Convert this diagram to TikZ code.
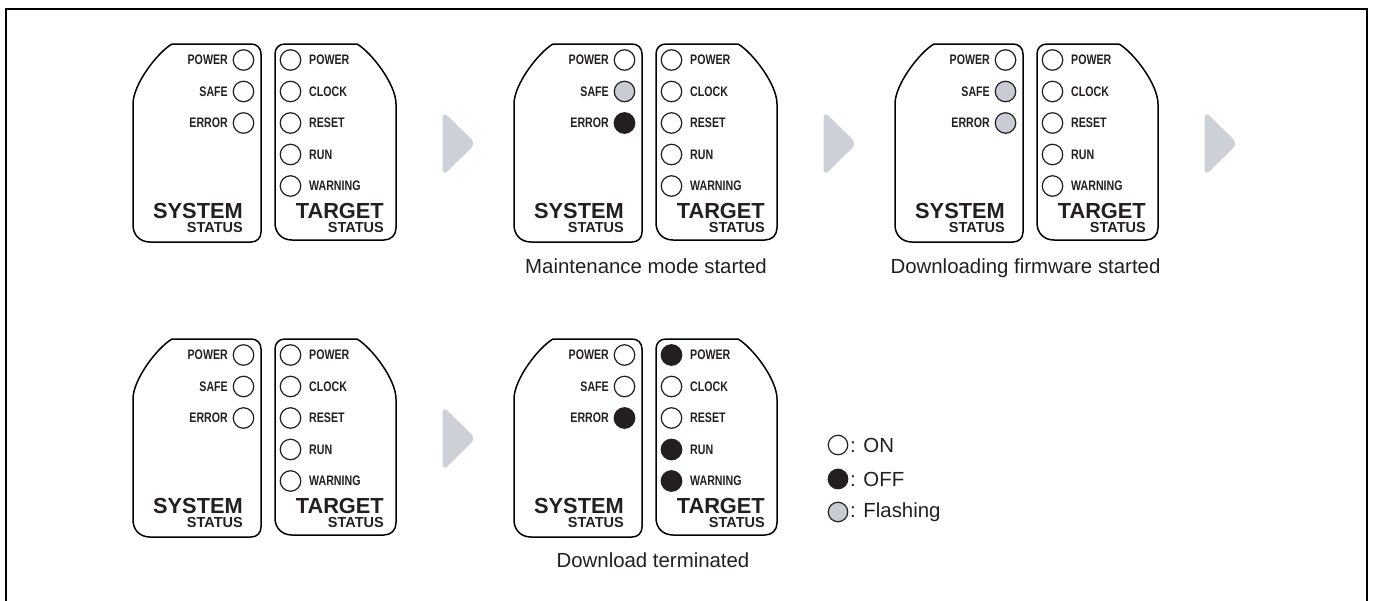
\documentclass[tikz,border=0pt]{standalone}
\usepackage{fontspec}
\setmainfont{Liberation Sans}
\newfontfamily\condb[FakeStretch=0.77]{Liberation Sans}
\definecolor{ledgray}{HTML}{C9CCD3}
\definecolor{arrgray}{HTML}{CDD0D7}
\definecolor{ledblack}{HTML}{231F20}
\tikzset{
  shapeline/.style={line width=1.5pt, line join=round},
  led/.style={circle, draw=ledblack, line width=1.2pt, minimum size=20.5pt, inner sep=0pt},
  legled/.style={circle, draw=ledblack, line width=1.2pt, minimum size=19.5pt, inner sep=0pt},
  lbl/.style={inner sep=0pt, font=\condb\bfseries\fontsize{13.8}{13.8}\selectfont, text=ledblack},
  bigtext/.style={inner sep=0pt, font=\bfseries\fontsize{21.8}{21.8}\selectfont, text=ledblack},
  subtext/.style={inner sep=0pt, font=\bfseries\fontsize{14.5}{14.5}\selectfont, text=ledblack},
  captext/.style={inner sep=0pt, font=\fontsize{20.4}{20.4}\selectfont, text=ledblack},
  arrowfill/.style={fill=arrgray, draw=arrgray, line width=1pt, rounded corners=6pt},
}
\newcommand\ledpanel[4]{%
\begin{scope}[shift={#2}]
  \draw[shapeline] (172,44) -- (251,44) .. controls (257,44) and (261,48) .. (261,54)
    -- (261,232) .. controls (261,238) and (257,242) .. (251,242)
    -- (150,242) .. controls (140,242) and (133,235) .. (133,225)
    -- (133,104) .. controls (133,84) and (158,52) .. (172,44) -- cycle;
  \draw[shapeline] (285,44) -- (357,44) .. controls (371,52) and (396,84) .. (396,104)
    -- (396,228) .. controls (396,235) and (391,240) .. (384,240)
    -- (292,240) .. controls (282,240) and (275,233) .. (275,223)
    -- (275,54) .. controls (275,48) and (279,44) .. (285,44) -- cycle;
  \foreach \c [count=\i] in {#3}
    \node[led, fill=\c] (#1s\i) at (243.5,{60+31.5*(\i-1)}) {};
  \foreach \t [count=\i] in {POWER,SAFE,ERROR}
    \node[lbl, anchor=east] (#1sl\i) at (228,{60+31.5*(\i-1)}) {\t};
  \foreach \c [count=\i] in {#4}
    \node[led, fill=\c] (#1t\i) at (290.5,{60+31.5*(\i-1)}) {};
  \foreach \t [count=\i] in {POWER,CLOCK,RESET,RUN,WARNING}
    \node[lbl, anchor=west] (#1tl\i) at (309,{60+31.5*(\i-1)}) {\t};
  \node[bigtext, anchor=base east] (#1sys) at (243,218) {SYSTEM};
  \node[subtext, anchor=base east] (#1sst) at (243,232) {STATUS};
  \node[bigtext, anchor=base east] (#1tgt) at (384,218) {TARGET};
  \node[subtext, anchor=base east] (#1tst) at (384,232) {STATUS};
\end{scope}}
\newcommand\nextarrow[1]{%
  \begin{scope}[shift={#1}]
    \fill[arrowfill] (443,112) -- (475,143.5) -- (443,175) -- cycle;
  \end{scope}}
\begin{document}
\begin{tikzpicture}[x=1pt,y=-1pt]
\useasboundingbox (0,0) rectangle (1374,600);
\fill[white] (0,0) rectangle (1374,600);
\draw[line width=2pt] (6,9) rectangle (1367,606);
% row 1
\ledpanel{a}{(0,0)}{white,white,white}{white,white,white,white,white}
\ledpanel{b}{(381,0)}{white,ledgray,ledblack}{white,white,white,white,white}
\ledpanel{c}{(762,0)}{white,ledgray,ledgray}{white,white,white,white,white}
\nextarrow{(0,0)}
\nextarrow{(381,0)}
\nextarrow{(762,0)}
\node[captext, anchor=base] (capb) at (646,273) {Maintenance mode started};
\node[captext, anchor=base] (capc) at (1025.5,273) {Downloading firmware started};
% row 2
\ledpanel{d}{(0,295)}{white,white,white}{white,white,white,white,white}
\ledpanel{e}{(381,295)}{white,white,ledblack}{ledblack,white,white,ledblack,ledblack}
\nextarrow{(0,295)}
\node[captext, anchor=base] (cape) at (653,567) {Download terminated};
% legend
\node[legled, fill=white] (lon) at (838,445) {};
\node[legled, fill=ledblack] (loff) at (838,479) {};
\node[legled, fill=ledgray] (lfl) at (838,512) {};
\node[captext, anchor=west] (lont) at (850,445) {: ON};
\node[captext, anchor=west] (lofft) at (850,479) {: OFF};
\node[captext, anchor=west] (lflt) at (850,512) {: Flashing};
\end{tikzpicture}
\end{document}
